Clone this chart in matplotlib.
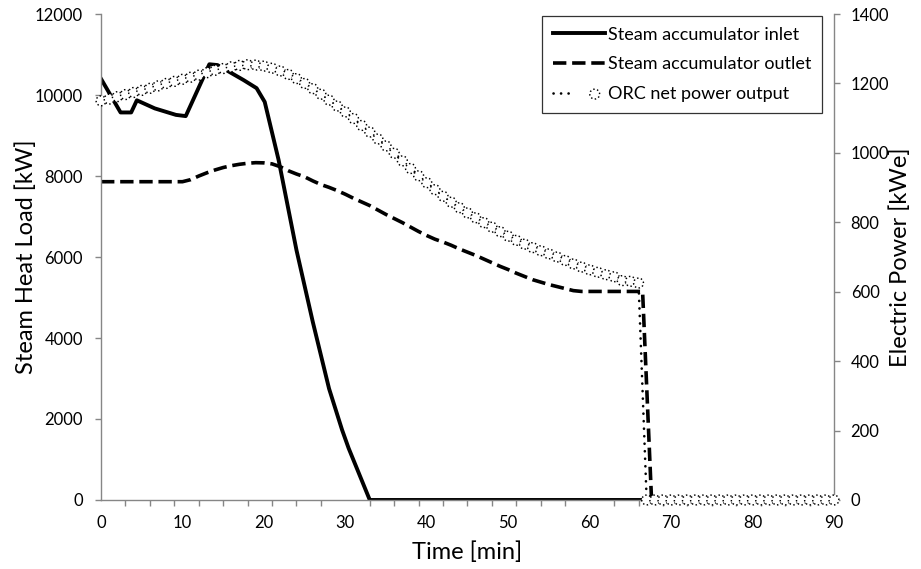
import matplotlib
matplotlib.use("Agg")
import matplotlib.pyplot as plt
import numpy as np
from matplotlib.legend_handler import HandlerTuple

# ── data ────────────────────────────────────────────────────────────────────
inlet_t = [0, 2.4, 3.7, 4.4, 6.6, 9.2, 10.4, 13.3, 14.3, 17.5, 19.1, 20.1,
           21.8, 24, 26, 28, 29.6, 30.4, 33, 66.5]
inlet_kw = [10400, 9570, 9570, 9870, 9670, 9510, 9480, 10760, 10740, 10370,
            10170, 9830, 8400, 6170, 4400, 2750, 1730, 1280, 0, 0]

outlet_t = [0, 10, 11, 12, 13, 14, 15, 16, 17, 18, 19, 20, 21, 22, 23, 24, 25,
            26, 27, 28, 29, 30, 31, 32, 33, 34, 35, 36, 37, 38, 39, 40, 41, 42,
            43, 44, 45, 46, 47, 48, 49, 50, 51, 52, 53, 54, 55, 56, 57, 58, 59,
            66.5, 67.6]
outlet_kw = [7860, 7860, 7910, 8000, 8080, 8150, 8210, 8255, 8290, 8315, 8330,
             8325, 8300, 8230, 8130, 8050, 7980, 7880, 7790, 7720, 7640, 7550,
             7450, 7360, 7270, 7160, 7050, 6950, 6850, 6740, 6630, 6530, 6440,
             6370, 6290, 6200, 6120, 6040, 5950, 5860, 5770, 5690, 5600, 5520,
             5440, 5380, 5320, 5270, 5220, 5170, 5150, 5150, 0]

orc_t = list(range(0, 91))
orc_kwe = [1150, 1155, 1162, 1168, 1174, 1180, 1186, 1193, 1200, 1206,
           1212, 1218, 1224, 1231, 1238, 1243, 1248, 1252, 1254, 1253,
           1250, 1244, 1236, 1226, 1214, 1200, 1185, 1169, 1152, 1135,
           1118, 1099, 1079, 1060, 1040, 1020, 999, 977, 955, 934,
           914, 894, 875, 858, 842, 827, 813, 799, 786, 773,
           760, 748, 737, 727, 718, 709, 700, 690, 680, 671,
           663, 656, 649, 643, 632, 630, 625] + [0] * 24

LABELS = ["Steam accumulator inlet", "Steam accumulator outlet",
          "ORC net power output"]
GREY = "#868686"

plt.rcParams["font.family"] = ["Lato", "DejaVu Sans"]

fig = plt.figure(figsize=(9.21, 5.69), dpi=100)
ax = fig.add_axes([0.1097, 0.1213, 0.7958, 0.854])
ax2 = ax.twinx()

# ── steam lines (left axis) ──
l_in, = ax.plot(inlet_t, inlet_kw, color="black", lw=2.8,
                solid_joinstyle="round", zorder=2)
l_out, = ax.plot(outlet_t, outlet_kw, color="black", lw=2.6,
                 linestyle=(0, (3.7, 1.6)), dash_capstyle="butt", zorder=2)

# ── ORC power (right axis) ──
l_orc, = ax2.plot(orc_t, orc_kwe, color="black", lw=1.9,
                  linestyle=(0, (0.05, 2.8)), dash_capstyle="round",
                  clip_on=False, zorder=2)
sc = ax2.scatter(orc_t, orc_kwe, s=50, facecolors="white", edgecolors="black",
                 linewidths=1.05, linestyles=":", clip_on=False, zorder=3)

# ── axes ──
ax.set_xlim(0, 90)
ax.set_ylim(0, 12000)
ax2.set_ylim(0, 1400)

ax.set_xticks(range(0, 91, 10))
ax.set_xticks(np.arange(0, 91, 3), minor=True)
ax.set_yticks(range(0, 12001, 2000))
ax2.set_yticks(range(0, 1401, 200))

ax.tick_params(axis="x", which="major", length=0, pad=11, labelsize=12)
ax.tick_params(axis="x", which="minor", length=4, width=1, color=GREY,
               direction="out")
ax.tick_params(axis="y", length=4, width=1, color=GREY, pad=9, labelsize=12)
ax2.tick_params(axis="y", length=4, width=1, color=GREY, pad=8, labelsize=12)

for a in (ax, ax2):
    for s in a.spines.values():
        s.set_visible(False)
ax.spines["left"].set_visible(True)
ax.spines["bottom"].set_visible(True)
ax2.spines["right"].set_visible(True)
for s in (ax.spines["left"], ax.spines["bottom"], ax2.spines["right"]):
    s.set_color(GREY)
    s.set_linewidth(1)

ax.set_xlabel("Time [min]", fontsize=17)
ax.set_ylabel("Steam Heat Load [kW]", fontsize=17)
ax2.set_ylabel("Electric Power [kWe]", fontsize=17, rotation=90)
ax.xaxis.set_label_coords(0.5, -0.086)
ax.yaxis.set_label_coords(-0.088, 0.5)
ax2.yaxis.set_label_coords(1.075, 0.5)

leg = ax2.legend([l_in, l_out, (l_orc, sc)], LABELS,
                 handler_map={tuple: HandlerTuple(ndivide=None)},
                 loc="upper right", bbox_to_anchor=(0.8925, 0.972),
                 bbox_transform=fig.transFigure, fontsize=13,
                 frameon=True, fancybox=False, edgecolor="black",
                 handlelength=2.9, handletextpad=0.15, labelspacing=0.75,
                 borderpad=0.6, borderaxespad=0, scatterpoints=1)
leg.get_frame().set_linewidth(0.9)

fig.savefig("out.png", dpi=100, facecolor="white")
